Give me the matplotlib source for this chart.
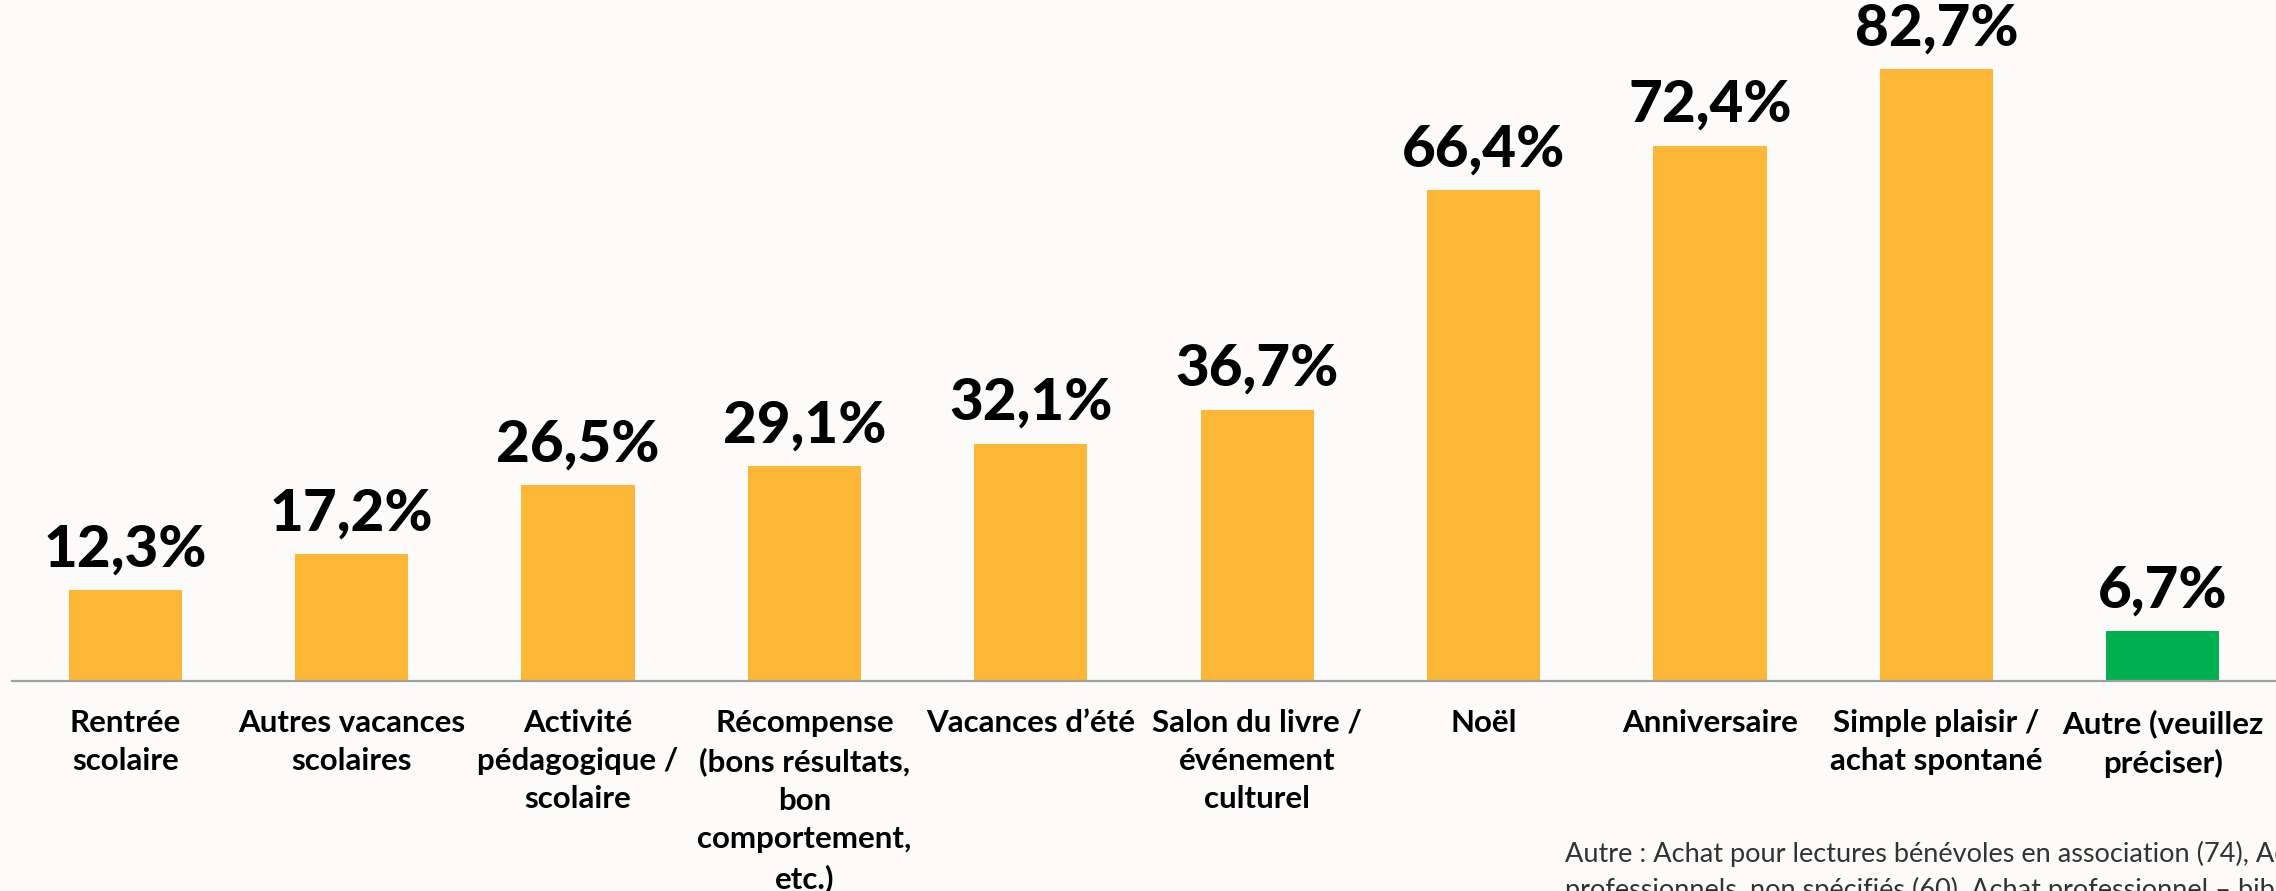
import matplotlib.pyplot as plt

categories = ["Rentrée\nscolaire", "Autres vacances\nscolaires",
              "Activité\npédagogique /\nscolaire",
              "Récompense\n(bons résultats,\nbon\ncomportement,\netc.)",
              "Vacances d’été", "Salon du livre /\névénement\nculturel",
              "Noël", "Anniversaire", "Simple plaisir /\nachat spontané",
              "Autre (veuillez\npréciser)"]
values = [12.3, 17.2, 26.5, 29.1, 32.1, 36.7, 66.4, 72.4, 82.7, 6.7]
bar_colors = ['#FDB736'] * 9 + ['#00B050']
footnote = ("Autre : Achat pour lectures bénévoles en association (74), Achats\n"
            "professionnels, non spécifiés (60), Achat professionnel – bibliothèque")

bg = '#FCFBF9'
W, H = 2276, 891

fig = plt.figure(figsize=(W / 100, H / 100), dpi=100, facecolor=bg)
ax = fig.add_axes([12 / W, 210 / H, 1 - 12 / W, 681 / H])
ax.set_facecolor(bg)

x = range(len(values))
bars = ax.bar(x, values, width=0.5, color=bar_colors)

for b, v in zip(bars, values):
    ax.annotate(f"{v:.1f}%".replace('.', ','),
                (b.get_x() + b.get_width() / 2, v),
                xytext=(0, 17), textcoords='offset points',
                ha='center', va='baseline', fontsize=42,
                fontweight='black', family='Lato', color='black')

ax.set_xlim(-0.5, 9.5)
ax.set_ylim(0, 681 / 7.395)
ax.set_xticks(list(x), categories)
ax.set_yticks([])
for s in ['top', 'left', 'right']:
    ax.spines[s].set_visible(False)
ax.spines['bottom'].set_color('#A0A0A0')
ax.spines['bottom'].set_linewidth(1.6)
ax.tick_params(axis='x', length=0, pad=20)
for lbl in ax.get_xticklabels():
    lbl.set_fontsize(22.5)
    lbl.set_fontweight('bold')
    lbl.set_family('Lato')
    lbl.set_linespacing(1.45)

# footnote runs off the right and bottom edges, as in the original
fig.text(1565 / W, 1 - 898 / H, footnote, fontsize=19.5, fontweight='normal',
         family='Lato', color='#333333', va='baseline', ha='left',
         linespacing=1.45)

fig.savefig('out.png', dpi=100, facecolor=bg)
